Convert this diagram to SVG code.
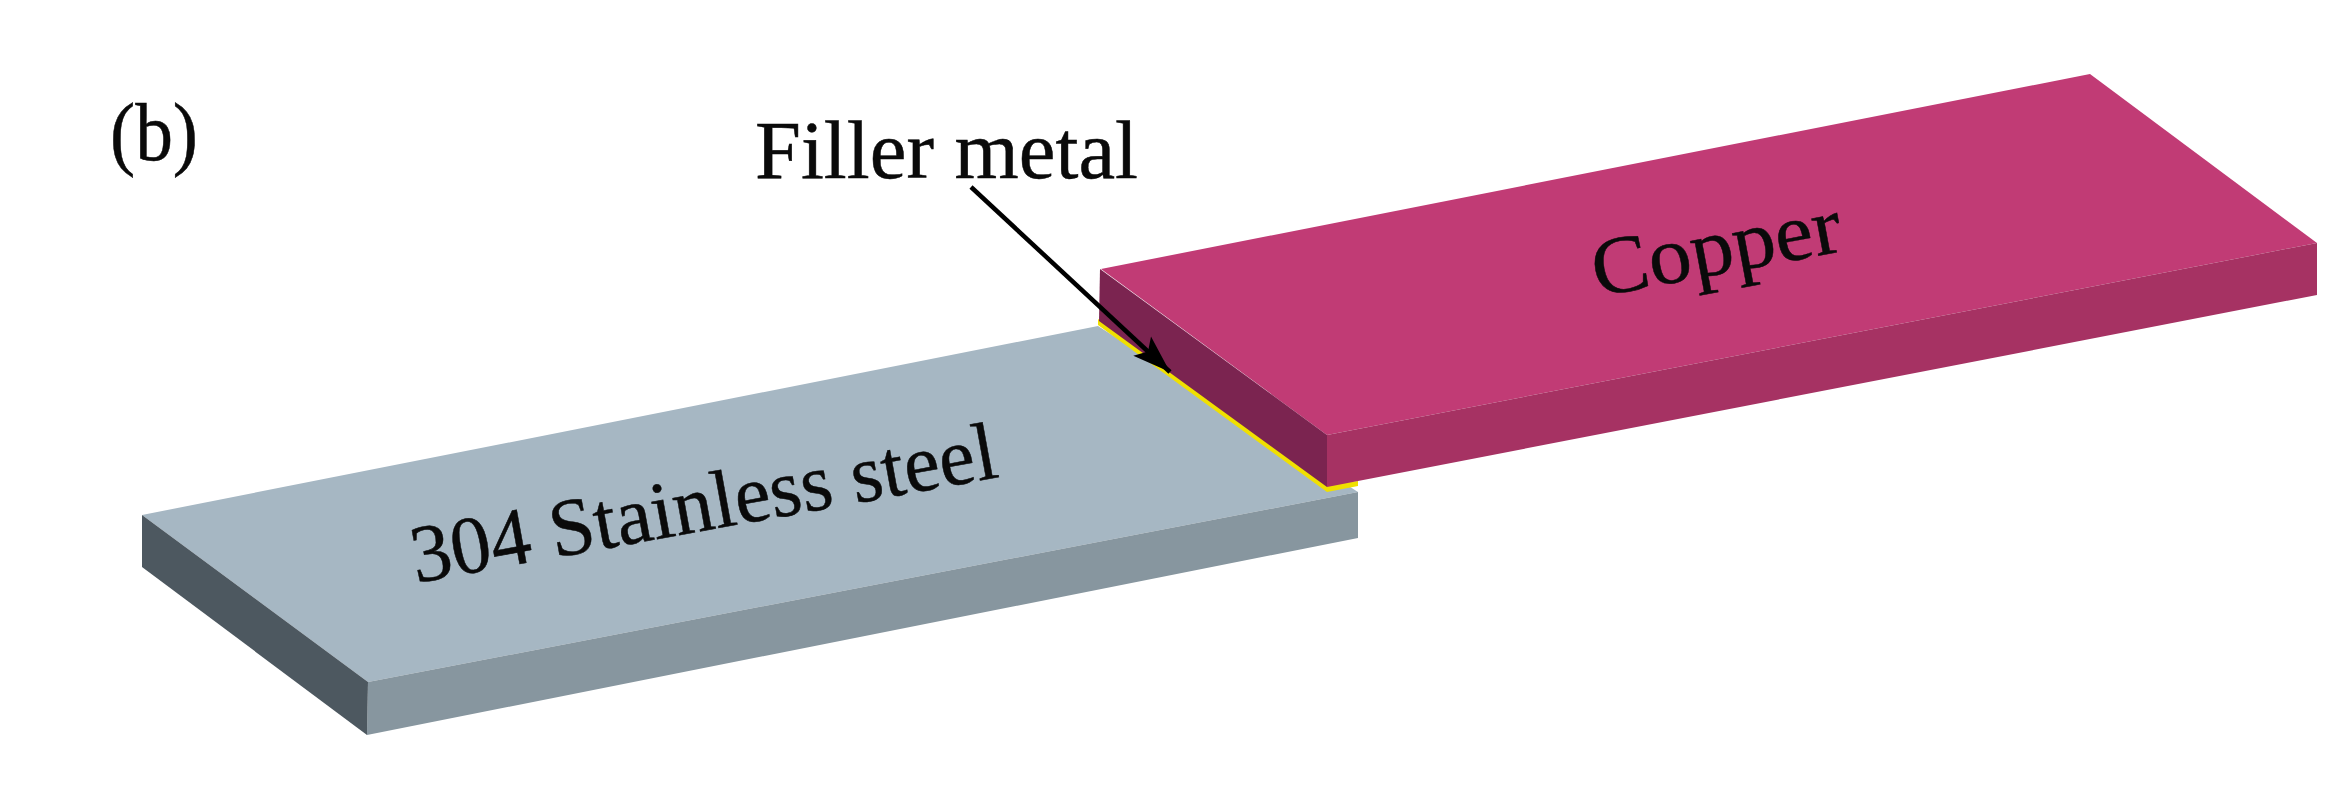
<svg xmlns="http://www.w3.org/2000/svg" width="2342" height="789" viewBox="0 0 2342 789">
<style>
text{font-family:"Liberation Serif","Times New Roman",serif;fill:#0a0a0a;stroke:#0a0a0a;stroke-width:.5}
.lbl{font-size:82px}
</style>
<defs><marker id="ah" markerUnits="userSpaceOnUse" markerWidth="50" markerHeight="50" refX="38" refY="20" orient="auto"><path d="M0,7 L38,20 L0,33 L8,20 Z" fill="#000"/></marker></defs>
<rect width="2342" height="789" fill="#fff"/>
<g id="steel">
<polygon points="142,515 1098,326 1358,492 368,682" fill="#a6b7c3"/>
<polygon points="368,682 1358,492 1358,538 367,735" fill="#87969f"/>
<polygon points="142,515 368,682 367,735 142,567" fill="#4d5860"/>
<text class="lbl" transform="translate(416,583) rotate(-10.3)" textLength="594" lengthAdjust="spacingAndGlyphs">304 Stainless steel</text>
</g>
<g id="filler">
<polygon points="1098,319 1327,485 1358,481 1358,486 1327,492 1098,325" fill="#f0e000"/>
</g>
<g id="copper">
<polygon points="1101,269 2090,74 2317,243 1327,435" fill="#c13b75"/>
<polygon points="1327,435 2317,243 2317,295 1327,487" fill="#a63263"/>
<polygon points="1100,269 1327,435 1327,487 1099,321" fill="#7b2450"/>
<text class="lbl" transform="translate(1597,297) rotate(-10.6)" textLength="252" lengthAdjust="spacingAndGlyphs">Copper</text>
</g>
<g id="labels">
<text class="lbl" x="110" y="160" textLength="88" lengthAdjust="spacingAndGlyphs">(b)</text>
<text class="lbl" x="755" y="178" textLength="383" lengthAdjust="spacingAndGlyphs">Filler metal</text>
</g>
<g id="connectors">
<line x1="971" y1="187" x2="1170" y2="372" stroke="#000" stroke-width="4.5" marker-end="url(#ah)"/>
</g>
</svg>
